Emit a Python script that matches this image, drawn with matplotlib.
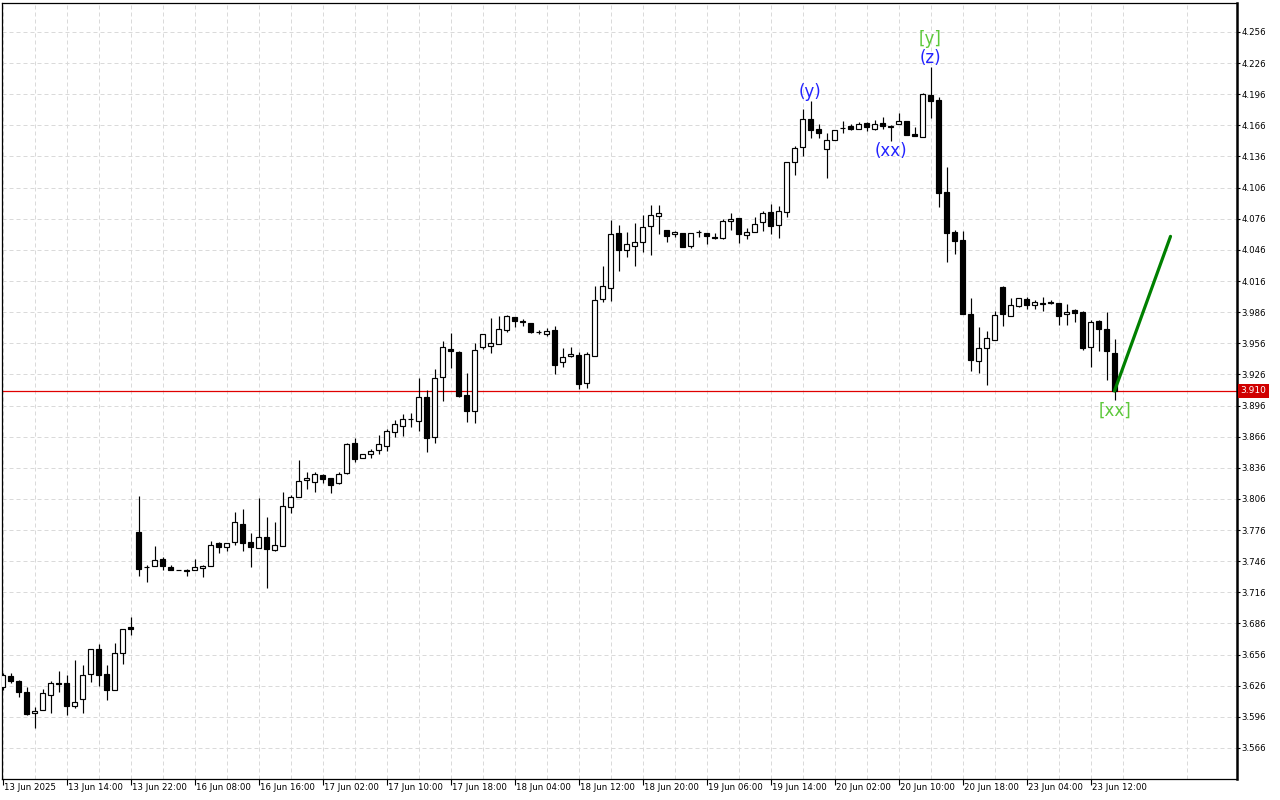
import matplotlib
matplotlib.use("Agg")
import matplotlib.pyplot as plt
import matplotlib.transforms as mtransforms
import numpy as np

# ---------------- data (hourly candles) ----------------
opens = [3.6244, 3.6353, 3.6305, 3.6199, 3.5993, 3.6022, 3.6167, 3.6289, 3.6283, 3.6067,
         3.6128, 3.6370, 3.6611, 3.6373, 3.6215, 3.6579, 3.6830, 3.7744, 3.7405, 3.7413,
         3.7480, 3.7403, 3.7375, 3.7377, 3.7374, 3.7390, 3.7416, 3.7635, 3.7593, 3.7645,
         3.7822, 3.7648, 3.7587, 3.7693, 3.7567, 3.7606, 3.7983, 3.8083, 3.8240, 3.8227,
         3.8291, 3.8259, 3.8211, 3.8314, 3.8597, 3.8452, 3.8490, 3.8529, 3.8574, 3.8702,
         3.8767, 3.8831, 3.8815, 3.9040, 3.8654, 3.9233, 3.9508, 3.9473, 3.9059, 3.8905,
         3.9521, 3.9534, 3.9550, 3.9685, 3.9811, 3.9775, 3.9753, 3.9670, 3.9653, 3.9688,
         3.9377, 3.9435, 3.9447, 3.9175, 3.9442, 3.9987, 4.0093, 4.0625, 4.0461, 4.0499,
         4.0538, 4.0693, 4.0789, 4.0654, 4.0609, 4.0625, 4.0496, 4.0633, 4.0625, 4.0587,
         4.0577, 4.0741, 4.0770, 4.0599, 4.0628, 4.0725, 4.0828, 4.0696, 4.0822, 4.1304,
         4.1449, 4.1722, 4.1625, 4.1429, 4.1519, 4.1633, 4.1651, 4.1622, 4.1686, 4.1628,
         4.1686, 4.1641, 4.1670, 4.1702, 4.1574, 4.1545, 4.1950, 4.1902, 4.1015, 4.0631,
         4.0557, 3.9838, 3.9390, 3.9519, 3.9596, 4.0102, 3.9825, 3.9922, 3.9986, 3.9928,
         3.9951, 3.9957, 3.9944, 3.9838, 3.9877, 3.9861, 3.9526, 3.9774, 3.9696, 3.9471]
highs = [3.6380, 3.6386, 3.6315, 3.6247, 3.6051, 3.6225, 3.6305, 3.6402, 3.6363, 3.6508,
         3.6460, 3.6611, 3.6663, 3.6460, 3.6669, 3.6804, 3.6923, 3.8086, 3.7426, 3.7609,
         3.7500, 3.7422, 3.7376, 3.7384, 3.7484, 3.7426, 3.7658, 3.7641, 3.7635, 3.7938,
         3.7967, 3.7732, 3.8073, 3.7889, 3.7841, 3.8131, 3.8102, 3.8436, 3.8323, 3.8320,
         3.8301, 3.8259, 3.8323, 3.8597, 3.8648, 3.8490, 3.8542, 3.8674, 3.8731, 3.8818,
         3.8879, 3.8885, 3.9226, 3.9110, 3.9310, 3.9579, 3.9660, 3.9483, 3.9274, 3.9560,
         3.9653, 3.9801, 3.9827, 3.9836, 3.9811, 3.9794, 3.9753, 3.9692, 3.9708, 3.9727,
         3.9511, 3.9521, 3.9480, 3.9480, 4.0116, 4.0309, 4.0744, 4.0696, 4.0634, 4.0715,
         4.0793, 4.0889, 4.0889, 4.0654, 4.0641, 4.0625, 4.0619, 4.0648, 4.0625, 4.0619,
         4.0754, 4.0812, 4.0770, 4.0673, 4.0780, 4.0834, 4.0905, 4.0883, 4.1304, 4.1462,
         4.1818, 4.1895, 4.1670, 4.1590, 4.1616, 4.1702, 4.1670, 4.1696, 4.1693, 4.1712,
         4.1738, 4.1664, 4.1776, 4.1702, 4.1641, 4.1975, 4.2220, 4.1934, 4.1262, 4.0653,
         4.0644, 3.9993, 3.9713, 3.9677, 3.9870, 4.0109, 3.9993, 3.9999, 4.0009, 3.9977,
         4.0002, 3.9977, 3.9944, 3.9938, 3.9886, 3.9870, 3.9783, 3.9783, 3.9864, 3.9603]
lows = [3.6220, 3.6289, 3.6154, 3.5980, 3.5854, 3.6022, 3.5999, 3.6202, 3.5980, 3.6044,
        3.5999, 3.6299, 3.6257, 3.6122, 3.6215, 3.6473, 3.6753, 3.7313, 3.7255, 3.7413,
        3.7377, 3.7371, 3.7372, 3.7313, 3.7374, 3.7303, 3.7410, 3.7538, 3.7554, 3.7616,
        3.7554, 3.7400, 3.7587, 3.7200, 3.7554, 3.7606, 3.7922, 3.8075, 3.8156, 3.8127,
        3.8211, 3.8121, 3.8201, 3.8298, 3.8413, 3.8452, 3.8458, 3.8490, 3.8526, 3.8654,
        3.8670, 3.8757, 3.8719, 3.8516, 3.8603, 3.9008, 3.9325, 3.9040, 3.8799, 3.8789,
        3.9502, 3.9464, 3.9550, 3.9666, 3.9721, 3.9727, 3.9656, 3.9650, 3.9630, 3.9264,
        3.9335, 3.9425, 3.9123, 3.9133, 3.9435, 3.9955, 3.9964, 4.0254, 4.0396, 4.0303,
        4.0441, 4.0409, 4.0612, 4.0535, 4.0587, 4.0487, 4.0480, 4.0587, 4.0519, 4.0567,
        4.0561, 4.0651, 4.0528, 4.0567, 4.0628, 4.0641, 4.0609, 4.0570, 4.0774, 4.1182,
        4.1368, 4.1542, 4.1542, 4.1156, 4.1519, 4.1584, 4.1616, 4.1622, 4.1606, 4.1616,
        4.1625, 4.1513, 4.1670, 4.1567, 4.1555, 4.1545, 4.1728, 4.0877, 4.0347, 4.0418,
        3.9845, 3.9294, 3.9274, 3.9162, 3.9596, 3.9725, 3.9825, 3.9912, 3.9886, 3.9886,
        3.9874, 3.9938, 3.9735, 3.9735, 3.9761, 3.9493, 3.9332, 3.9487, 3.9210, 3.9010]
closes = [3.6364, 3.6308, 3.6202, 3.5989, 3.6019, 3.6186, 3.6283, 3.6275, 3.6067, 3.6099,
          3.6360, 3.6611, 3.6366, 3.6221, 3.6572, 3.6804, 3.6811, 3.7384, 3.7401, 3.7471,
          3.7413, 3.7371, 3.7373, 3.7361, 3.7403, 3.7413, 3.7616, 3.7593, 3.7635, 3.7838,
          3.7632, 3.7593, 3.7693, 3.7574, 3.7616, 3.7992, 3.8079, 3.8234, 3.8259, 3.8301,
          3.8256, 3.8198, 3.8301, 3.8590, 3.8442, 3.8490, 3.8523, 3.8587, 3.8712, 3.8783,
          3.8831, 3.8833, 3.9040, 3.8645, 3.9223, 3.9521, 3.9483, 3.9056, 3.8911, 3.9499,
          3.9653, 3.9560, 3.9701, 3.9820, 3.9778, 3.9762, 3.9672, 3.9668, 3.9676, 3.9348,
          3.9425, 3.9457, 3.9165, 3.9454, 3.9976, 4.0113, 4.0615, 4.0461, 4.0518, 4.0538,
          4.0683, 4.0793, 4.0818, 4.0593, 4.0635, 4.0487, 4.0619, 4.0631, 4.0593, 4.0574,
          4.0741, 4.0760, 4.0609, 4.0635, 4.0712, 4.0818, 4.0693, 4.0838, 4.1304, 4.1439,
          4.1718, 4.1619, 4.1584, 4.1519, 4.1616, 4.1636, 4.1625, 4.1677, 4.1641, 4.1673,
          4.1657, 4.1657, 4.1706, 4.1567, 4.1555, 4.1959, 4.1895, 4.1005, 4.0620, 4.0541,
          3.9845, 3.9403, 3.9510, 3.9606, 3.9828, 3.9838, 3.9925, 3.9993, 3.9925, 3.9954,
          3.9935, 3.9944, 3.9825, 3.9861, 3.9854, 3.9510, 3.9761, 3.9696, 3.9487, 3.9100]

x_tick_labels = ["13 Jun 2025", "13 Jun 14:00", "13 Jun 22:00", "16 Jun 08:00", "16 Jun 16:00",
                 "17 Jun 02:00", "17 Jun 10:00", "17 Jun 18:00", "18 Jun 04:00", "18 Jun 12:00",
                 "18 Jun 20:00", "19 Jun 06:00", "19 Jun 14:00", "20 Jun 02:00", "20 Jun 10:00",
                 "20 Jun 18:00", "23 Jun 04:00", "23 Jun 12:00"]
y_tick_labels = ["3.566", "3.596", "3.626", "3.656", "3.686", "3.716", "3.746", "3.776",
                 "3.806", "3.836", "3.866", "3.896", "3.926", "3.956", "3.986", "4.016",
                 "4.046", "4.076", "4.106", "4.136", "4.166", "4.196", "4.226", "4.256"]
last_price = 3.910
projection_bars = [139, 146]
projection_prices = [3.910, 4.059]
# (text, bar index, anchor side, colour)
wave_labels = [("(y)", 101, "high", "#2323ff"),
               ("(xx)", 111, "low", "#2323ff"),
               ("(z)", 116, "high", "#2323ff"),
               ("[y]", 116, "high2", "#5cc83a"),
               ("[xx]", 139, "low", "#5cc83a")]

# ---------------- figure ----------------
W, H = 1280, 800
fig = plt.figure(figsize=(W / 100, H / 100), dpi=100)
ax_left, ax_right, ax_top, ax_bottom = 2.3, 1236.5, 3.0, 779.0
ax = fig.add_axes([ax_left / W, 1 - ax_bottom / H, (ax_right - ax_left) / W, (ax_bottom - ax_top) / H])
ax.set_facecolor("white")

o = np.array(opens); h = np.array(highs); l = np.array(lows); c = np.array(closes)
idx = np.arange(len(o))
up = c >= o
bottoms = np.minimum(o, c)
heights = np.abs(c - o)

ax.vlines(idx, l, h, color="black", lw=0.85, zorder=3)
ax.bar(idx[up], heights[up], bottom=bottoms[up], width=0.56, facecolor="white",
       edgecolor="black", linewidth=0.85, zorder=4)
ax.bar(idx[~up], heights[~up], bottom=bottoms[~up], width=0.56, facecolor="black",
       edgecolor="black", linewidth=0.85, zorder=4)

# current price line
ax.axhline(last_price, color="#e00000", lw=0.9, zorder=2)

# projection line
ax.plot(projection_bars, projection_prices, color="#008000", lw=2.3, zorder=6,
        solid_capstyle="round")

# wave labels
fs_w = 12
for text, bar, side, col in wave_labels:
    if side == "high":
        ax.annotate(text, xy=(bar, h[bar]), xytext=(0, 0), textcoords="offset pixels",
                    ha="center", va="bottom", color=col, fontsize=fs_w, zorder=7)
    elif side == "high2":
        ax.annotate(text, xy=(bar, h[bar]), xytext=(0, 19), textcoords="offset pixels",
                    ha="center", va="bottom", color=col, fontsize=fs_w, zorder=7)
    else:
        ax.annotate(text, xy=(bar, l[bar]), xytext=(0, -1), textcoords="offset pixels",
                    ha="center", va="top", color=col, fontsize=fs_w, zorder=7)

# limits
ax.set_xlim(-0.025, 154.25)
ax.set_ylim(3.5361, 4.2839)

# y axis on the right
yt = [float(s) for s in y_tick_labels]
ax.yaxis.tick_right()
ax.set_yticks(yt)
ax.set_yticklabels(y_tick_labels)
ax.tick_params(axis="y", which="major", length=2.5, width=0.8, pad=1.2, labelsize=6.2,
               colors="black", direction="out")

# x axis
xt = np.arange(0, 8 * len(x_tick_labels), 8)
ax.set_xticks(xt)
ax.set_xticklabels(x_tick_labels)
ax.set_xticks(np.arange(4, 154, 8), minor=True)
ax.tick_params(axis="x", which="major", length=4.5, width=0.8, pad=-1.6, labelsize=6.2,
               direction="out")
ax.tick_params(axis="x", which="minor", length=0)
shift = mtransforms.ScaledTranslation(1.5 / 100, 0, fig.dpi_scale_trans)
for lab in ax.get_xticklabels():
    lab.set_horizontalalignment("left")
    lab.set_transform(lab.get_transform() + shift)

# grid
ax.grid(True, which="both", axis="x", color="#dadada", lw=0.72, linestyle=(0, (4, 3)), zorder=0)
ax.grid(True, which="major", axis="y", color="#dadada", lw=0.72, linestyle=(0, (4, 3)), zorder=0)
ax.set_axisbelow(True)

for side in ["left", "top", "bottom"]:
    ax.spines[side].set_color("black")
    ax.spines[side].set_linewidth(0.9)
ax.spines["right"].set_linewidth(1.8)
ax.spines["right"].set_color("black")

# last price tag
ax.annotate(f"{last_price:.3f}", xy=(1.0, last_price), xycoords=("axes fraction", "data"),
            xytext=(4, 0), textcoords="offset pixels", ha="left", va="center",
            fontsize=6.5, color="white", annotation_clip=False, zorder=8,
            bbox=dict(boxstyle="square,pad=0.3", fc="#d00000", ec="none"))

fig.savefig("out.png", dpi=100, facecolor="white")
